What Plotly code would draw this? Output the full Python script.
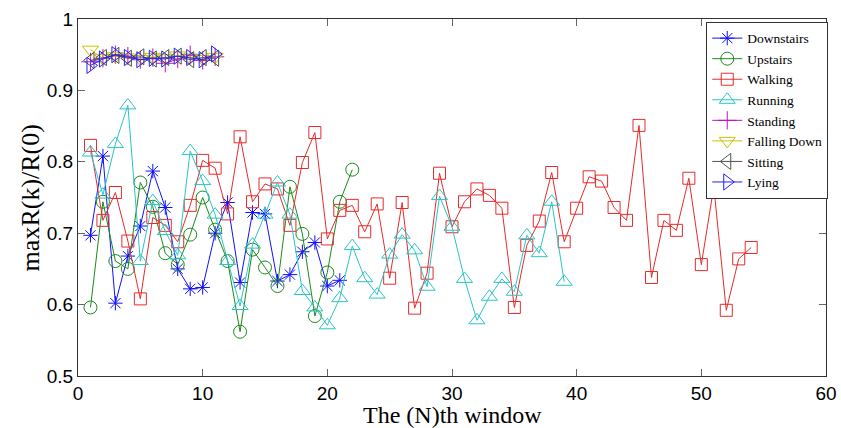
import plotly.graph_objects as go

# ---- data ----
downstairs_x = list(range(1, 22))
downstairs_y = [0.697, 0.808, 0.602, 0.668, 0.710, 0.787, 0.736, 0.650, 0.622, 0.624, 0.700,
                0.743, 0.631, 0.729, 0.727, 0.633, 0.642, 0.674, 0.687, 0.626, 0.634]

upstairs_x = list(range(1, 23))
upstairs_y = [0.596, 0.744, 0.661, 0.650, 0.771, 0.737, 0.672, 0.656, 0.698, 0.750, 0.705,
              0.661, 0.562, 0.677, 0.652, 0.626, 0.765, 0.699, 0.584, 0.645, 0.744, 0.789]

walking_x = list(range(1, 55))
walking_y = [0.823, 0.718, 0.757, 0.689, 0.608, 0.722, 0.711, 0.688, 0.739, 0.802, 0.791,
             0.727, 0.835, 0.744, 0.769, 0.762, 0.711, 0.799, 0.841, 0.692, 0.732, 0.739,
             0.702, 0.741, 0.637, 0.743, 0.595, 0.644, 0.784, 0.709, 0.744, 0.762, 0.753,
             0.735, 0.596, 0.683, 0.717, 0.785, 0.688, 0.735, 0.779, 0.773, 0.736, 0.718,
             0.851, 0.638, 0.718, 0.704, 0.777, 0.656, 0.765, 0.592, 0.664, 0.680]

running_x = list(range(1, 40))
running_y = [0.813, 0.754, 0.825, 0.879, 0.661, 0.745, 0.703, 0.669, 0.815, 0.773, 0.726,
             0.661, 0.598, 0.684, 0.726, 0.771, 0.726, 0.619, 0.596, 0.571, 0.609, 0.682,
             0.637, 0.614, 0.670, 0.698, 0.676, 0.625, 0.752, 0.709, 0.636, 0.578, 0.611,
             0.636, 0.618, 0.697, 0.672, 0.744, 0.632]

cluster_x = list(range(1, 12))
standing_y = [0.940, 0.945, 0.950, 0.948, 0.943, 0.946, 0.938, 0.944, 0.950, 0.942, 0.947]
falling_y = [0.957, 0.945, 0.948, 0.946, 0.944, 0.947, 0.945, 0.949, 0.946, 0.944, 0.947]
sitting_y = [0.942, 0.946, 0.949, 0.945, 0.947, 0.944, 0.946, 0.948, 0.943, 0.946, 0.945]
lying_y = [0.935, 0.944, 0.950, 0.946, 0.943, 0.945, 0.944, 0.948, 0.946, 0.943, 0.951]

x_ticks = [0, 10, 20, 30, 40, 50, 60]
y_ticks = [0.5, 0.6, 0.7, 0.8, 0.9, 1.0]
y_ticktext = ["0.5", "0.6", "0.7", "0.8", "0.9", "1"]

x_title = "The (N)th window"
y_title = "maxR(k)/R(0)"

series = [
    ("Downstairs", downstairs_x, downstairs_y, "#1010ff", "asterisk-open", 12),
    ("Upstairs", upstairs_x, upstairs_y, "#1a8a1a", "circle-open", 13),
    ("Walking", walking_x, walking_y, "#e52b2b", "square-open", 12),
    ("Running", running_x, running_y, "#2cc4c4", "triangle-up-open", 14),
    ("Standing", cluster_x, standing_y, "#c010c0", "cross-thin-open", 13),
    ("Falling Down", cluster_x, falling_y, "#c4c400", "triangle-down-open", 14),
    ("Sitting", cluster_x, sitting_y, "#505050", "triangle-left-open", 14),
    ("Lying", cluster_x, lying_y, "#2020ff", "triangle-right-open", 14),
]

fig = go.Figure()
for name, xs, ys, color, sym, size in series:
    fig.add_trace(go.Scatter(
        x=xs, y=ys, name=name, mode="lines+markers",
        line=dict(color=color, width=1),
        marker=dict(symbol=sym, size=size, color=color, line=dict(color=color, width=1)),
    ))

axis_common = dict(
    showline=True, linecolor="#333333", linewidth=1, mirror="ticks",
    ticks="inside", ticklen=7, tickcolor="#666666", showgrid=False, zeroline=False,
    automargin=False,
    tickfont=dict(family="Liberation Sans, Arial", size=19, color="black"),
)

serif = "Liberation Serif, Times New Roman"

fig.update_layout(
    width=841, height=428,
    margin=dict(l=78, r=15, t=19, b=52),
    paper_bgcolor="white", plot_bgcolor="white",
    hovermode=False,
    xaxis=dict(range=[0, 60], tickvals=x_ticks, **axis_common),
    yaxis=dict(range=[0.5, 1.0], tickvals=y_ticks, ticktext=y_ticktext, **axis_common),
    legend=dict(x=1.003, y=0.992, xanchor="right", yanchor="top",
                bgcolor="white", bordercolor="#333333", borderwidth=1,
                font=dict(family=serif, size=13.5, color="black"),
                tracegroupgap=0, itemwidth=30),
    showlegend=True,
    annotations=[
        dict(text=x_title, xref="paper", yref="paper", x=0.5, y=-0.108,
             xanchor="center", yanchor="middle", showarrow=False,
             font=dict(family=serif, size=24, color="black")),
        dict(text=y_title, xref="paper", yref="paper", x=-0.063, y=0.5,
             xanchor="center", yanchor="middle", showarrow=False, textangle=-90,
             font=dict(family=serif, size=26, color="black")),
    ],
)

fig.write_html("out.html",
               config={"displayModeBar": False, "staticPlot": True},
               post_script="document.body.style.margin='0';document.body.style.overflow='hidden';")
